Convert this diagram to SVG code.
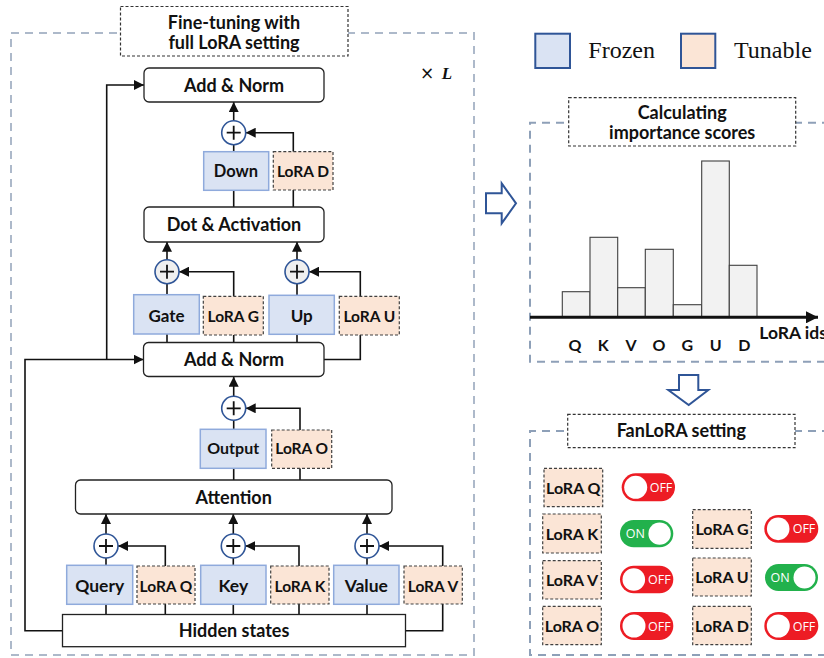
<svg xmlns="http://www.w3.org/2000/svg" width="824" height="658" viewBox="0 0 824 658">
<defs>
<style>
.t{font-family:Lato,"Open Sans","Liberation Sans",sans-serif;font-weight:bold;fill:#111;text-anchor:middle}
.frz{fill:#DAE3F3;stroke:#8FAADC;stroke-width:1.5}
.lora{fill:#FBE5D6;stroke:#404040;stroke-width:1.2;stroke-dasharray:3 2}
.blk{fill:#fff;stroke:#222;stroke-width:1.3}
.ttl{fill:#fff;stroke:#333;stroke-width:1.2;stroke-dasharray:3 2}
.ln{fill:none;stroke:#111;stroke-width:1.6}
.arr{fill:none;stroke:#111;stroke-width:1.6;marker-end:url(#ah)}
.plus{fill:#fff;stroke:#2F5597;stroke-width:1.6}
.pg{fill:#EFEFEF;stroke:#2F5597;stroke-width:1.6}
.pl{fill:none;stroke:#111;stroke-width:1.8}
.bar{fill:#F2F2F2;stroke:#404040;stroke-width:1.1}
.off{fill:#ED1C24}
.on{fill:#22B14C}
.knob{fill:#fff}
.tg{font-family:"Open Sans","Liberation Sans",sans-serif;font-size:12.5px;fill:#fff;text-anchor:middle}
.hol{fill:#fff;stroke:#2F5597;stroke-width:2;stroke-linejoin:miter}
</style>
<marker id="ah" viewBox="0 0 10 10" refX="10" refY="5" markerWidth="10" markerHeight="10" markerUnits="userSpaceOnUse" orient="auto">
<path d="M0,0 L10,5 L0,10 z" fill="#111"/>
</marker>
<marker id="ah2" viewBox="0 0 12 12" refX="12" refY="6" markerWidth="12" markerHeight="12" markerUnits="userSpaceOnUse" orient="auto">
<path d="M0,0 L12,6 L0,12 z" fill="#111"/>
</marker>
</defs>
<rect width="824" height="658" fill="#fff"/>

<!-- outer dashed frames -->
<rect x="11" y="33" width="463" height="622" fill="none" stroke="#ADB9CA" stroke-width="2" stroke-dasharray="8 6"/>
<path d="M830,122.7 H530 V361.7 H830" fill="none" stroke="#8EA0B8" stroke-width="2" stroke-dasharray="8 6"/>
<path d="M830,431 H530 V655 H830" fill="none" stroke="#8EA0B8" stroke-width="2" stroke-dasharray="8 6"/>

<!-- connectors -->
<g id="connectors">
<path class="ln" d="M233.7,151.7 V144.7"/>
<path class="arr" d="M233.7,120.7 V102"/>
<path class="arr" d="M293.3,151.7 V132.7 H245.7"/>
<path class="ln" d="M233.7,207 V190.3 M293.3,207 V190"/>
<path class="arr" d="M167,259.7 V241.7"/>
<path class="arr" d="M297,259.7 V241.7"/>
<path class="ln" d="M167,294.7 V283.7 M297,295.3 V283.7"/>
<path class="arr" d="M233.7,296.3 V271.7 H179"/>
<path class="arr" d="M360.3,296.3 V271.7 H309"/>
<path class="ln" d="M167,334 V342.5 M233.7,335 V342.5 M297,334.3 V342.5"/>
<path class="ln" d="M360.3,335 V359.5 H324"/>
<path class="arr" d="M233.7,396.3 V376.7"/>
<path class="ln" d="M233.7,429.3 V420.3"/>
<path class="arr" d="M300,430 V408.3 H245.7"/>
<path class="ln" d="M233.7,480 V468.3 M300,480 V468.3"/>
<path class="arr" d="M106,534 V514"/>
<path class="arr" d="M233.3,534 V514"/>
<path class="arr" d="M367,534 V514"/>
<path class="ln" d="M106,565.3 V558 M233.3,565.3 V558 M367,565.3 V558"/>
<path class="arr" d="M165.3,566 V546 H118"/>
<path class="arr" d="M299,566 V546 H245.3"/>
<path class="arr" d="M442.7,566 V546 H379"/>
<path class="ln" d="M106,604.3 V614.5 M165.3,604 V614.5 M233.3,604.3 V614.5 M299,604 V614.5 M367,604.3 V614.5"/>
<path class="ln" d="M442.7,604 V630.7 H405.5"/>
<path class="arr" d="M62.5,630.7 H25 V359.5 H143.5"/>
<path class="arr" d="M106.7,359.5 V85 H144"/>
</g>

<!-- title -->
<g id="title-finetune">
<rect class="ttl" x="120.5" y="6.5" width="227.5" height="49.5"/>
<text class="t" x="234" y="29" font-size="18">Fine-tuning with</text>
<text class="t" x="234" y="48.5" font-size="18">full LoRA setting</text>
</g>
<g id="times-L">
<text x="427" y="79" font-family="DejaVu Sans,sans-serif" font-size="17" text-anchor="middle" fill="#111">×</text>
<text x="447" y="79" font-family="Liberation Serif,serif" font-size="17" font-style="italic" font-weight="bold" text-anchor="middle" fill="#111">L</text>
</g>

<!-- blocks -->
<g id="addnorm-top"><rect class="blk" x="144" y="68" width="180" height="34" rx="5"/><text class="t" x="234" y="91.5" font-size="18">Add &amp; Norm</text></g>
<g id="plus-d"><circle class="plus" cx="233.7" cy="132.7" r="12"/><path class="pl" d="M226.7,132.7 H240.7 M233.7,125.7 V139.7"/></g>
<g id="down"><rect class="frz" x="203.7" y="151.7" width="65" height="38.6"/><text class="t" x="236" y="176.7" font-size="16.5">Down</text></g>
<g id="lora-d"><rect class="lora" x="273.3" y="151.7" width="59.7" height="38.3"/><text class="t" x="303" y="176.7" font-size="15.5">LoRA D</text></g>
<g id="dot-act"><rect class="blk" x="144" y="207" width="180" height="35" rx="5"/><text class="t" x="234" y="230.5" font-size="18">Dot &amp; Activation</text></g>
<g id="plus-g"><circle class="pg" cx="167" cy="271.7" r="12"/><path class="pl" d="M160,271.7 H174 M167,264.7 V278.7"/></g>
<g id="plus-u"><circle class="pg" cx="297" cy="271.7" r="12"/><path class="pl" d="M290,271.7 H304 M297,264.7 V278.7"/></g>
<g id="gate"><rect class="frz" x="133.7" y="294.7" width="65.6" height="39.3"/><text class="t" x="166.5" y="321.5" font-size="17">Gate</text></g>
<g id="lora-g"><rect class="lora" x="203.3" y="296.3" width="60" height="38.7"/><text class="t" x="233.3" y="321.5" font-size="15.5">LoRA G</text></g>
<g id="up"><rect class="frz" x="269" y="295.3" width="65.3" height="39"/><text class="t" x="301.7" y="321.5" font-size="17">Up</text></g>
<g id="lora-u"><rect class="lora" x="339.3" y="296.3" width="60" height="38.7"/><text class="t" x="369.3" y="321.5" font-size="15.5">LoRA U</text></g>
<g id="addnorm-mid"><rect class="blk" x="143.5" y="342.5" width="180.5" height="34" rx="5"/><text class="t" x="234" y="366" font-size="18">Add &amp; Norm</text></g>
<g id="plus-o"><circle class="plus" cx="233.7" cy="408.3" r="12"/><path class="pl" d="M226.7,408.3 H240.7 M233.7,401.3 V415.3"/></g>
<g id="output"><rect class="frz" x="200.3" y="429.3" width="65.7" height="39"/><text class="t" x="233.2" y="454.3" font-size="16">Output</text></g>
<g id="lora-o"><rect class="lora" x="271.7" y="430" width="60" height="38.3"/><text class="t" x="301.7" y="454.3" font-size="15.5">LoRA O</text></g>
<g id="attention"><rect class="blk" x="75.5" y="480" width="316.5" height="34" rx="5"/><text class="t" x="233.7" y="503.8" font-size="18">Attention</text></g>
<g id="plus-q"><circle class="plus" cx="106" cy="546" r="12"/><path class="pl" d="M99,546 H113 M106,539 V553"/></g>
<g id="plus-k"><circle class="plus" cx="233.3" cy="546" r="12"/><path class="pl" d="M226.3,546 H240.3 M233.3,539 V553"/></g>
<g id="plus-v"><circle class="plus" cx="367" cy="546" r="12"/><path class="pl" d="M360,546 H374 M367,539 V553"/></g>
<g id="query"><rect class="frz" x="66.7" y="565.3" width="66" height="39"/><text class="t" x="99.7" y="591.5" font-size="17.5">Query</text></g>
<g id="lora-q"><rect class="lora" x="137" y="566" width="58" height="38"/><text class="t" x="166" y="591.5" font-size="15.5">LoRA Q</text></g>
<g id="key"><rect class="frz" x="200.7" y="565.3" width="65.3" height="39"/><text class="t" x="233.3" y="591.5" font-size="17.5">Key</text></g>
<g id="lora-k"><rect class="lora" x="270.7" y="566" width="58.3" height="38"/><text class="t" x="300" y="591.5" font-size="15.5">LoRA K</text></g>
<g id="value"><rect class="frz" x="333.7" y="565.3" width="65.3" height="39"/><text class="t" x="366.3" y="591.5" font-size="17.5">Value</text></g>
<g id="lora-v"><rect class="lora" x="404" y="566" width="58.3" height="38"/><text class="t" x="433" y="591.5" font-size="15.5">LoRA V</text></g>
<g id="hidden"><rect class="blk" x="62.5" y="614.5" width="343" height="32.2"/><text class="t" x="234" y="636.7" font-size="18">Hidden states</text></g>

<!-- legend -->
<g id="legend-frozen"><rect x="535.3" y="33.7" width="34.7" height="34.3" fill="#DAE3F3" stroke="#2F5597" stroke-width="2"/><text x="588.3" y="58.3" font-family="Liberation Serif,serif" font-size="24" fill="#111">Frozen</text></g>
<g id="legend-tunable"><rect x="681" y="33.7" width="34.3" height="34.3" fill="#FBE5D6" stroke="#2F5597" stroke-width="2"/><text x="734" y="58.3" font-family="Liberation Serif,serif" font-size="24" fill="#111">Tunable</text></g>

<!-- hollow arrows -->
<g id="arrow-right"><path class="hol" d="M486,193.3 H501.7 V183.3 L516,203.3 L501.7,223.3 V213.3 H486 Z"/></g>
<g id="arrow-down"><path class="hol" d="M679,375 H698.3 V390 H708.3 L688.7,405 L668.3,390 H679 Z"/></g>

<!-- importance chart -->
<g id="title-calc">
<rect class="ttl" x="568.7" y="97.7" width="227" height="48.3"/>
<text class="t" x="682.2" y="119.3" font-size="18">Calculating</text>
<text class="t" x="682.2" y="139" font-size="18">importance scores</text>
</g>
<g id="chart">
<rect class="bar" x="562.3" y="291.7" width="27.7" height="25"/>
<rect class="bar" x="590" y="237.3" width="27.7" height="79.4"/>
<rect class="bar" x="617.7" y="287.7" width="27.6" height="29"/>
<rect class="bar" x="645.3" y="249.3" width="28" height="67.4"/>
<rect class="bar" x="673.3" y="304.7" width="28.4" height="12"/>
<rect class="bar" x="701.7" y="161" width="27.6" height="155.7"/>
<rect class="bar" x="729.3" y="265.3" width="27.7" height="51.4"/>
<path d="M530,317.3 H818" fill="none" stroke="#111" stroke-width="3" marker-end="url(#ah2)"/>
<text class="t" x="575" y="351" font-size="16">Q</text>
<text class="t" x="603.3" y="351" font-size="16">K</text>
<text class="t" x="631" y="351" font-size="16">V</text>
<text class="t" x="659" y="351" font-size="16">O</text>
<text class="t" x="687.3" y="351" font-size="16">G</text>
<text class="t" x="715.7" y="351" font-size="16">U</text>
<text class="t" x="744.3" y="351" font-size="16">D</text>
<text class="t" x="759.3" y="339.3" font-size="17.5" style="text-anchor:start">LoRA ids</text>
</g>

<!-- FanLoRA setting -->
<g id="title-fan">
<rect class="ttl" x="567.7" y="414.3" width="227.3" height="33.4"/>
<text class="t" x="681.3" y="436.7" font-size="18">FanLoRA setting</text>
</g>
<g id="fan-q"><rect class="lora" x="544" y="468.3" width="58.7" height="38.4"/><text class="t" x="573.3" y="493.5" font-size="16">LoRA Q</text>
<rect class="off" x="621.7" y="473.3" width="53.3" height="28" rx="14"/><circle class="knob" cx="635.7" cy="487.3" r="11.5"/><text class="tg" x="661" y="491.8">OFF</text></g>
<g id="fan-k"><rect class="lora" x="542.7" y="514" width="58.6" height="39"/><text class="t" x="572" y="539.5" font-size="16">LoRA K</text>
<rect class="on" x="620" y="520" width="53.3" height="27.3" rx="13.65"/><circle class="knob" cx="659.6" cy="533.65" r="11.2"/><text class="tg" x="635.3" y="538.1">ON</text></g>
<g id="fan-v"><rect class="lora" x="542.7" y="560.7" width="58.6" height="38.3"/><text class="t" x="572" y="586" font-size="16">LoRA V</text>
<rect class="off" x="620" y="565.7" width="53.3" height="27.6" rx="13.8"/><circle class="knob" cx="633.8" cy="579.5" r="11.3"/><text class="tg" x="659.3" y="584">OFF</text></g>
<g id="fan-o"><rect class="lora" x="542.7" y="606.3" width="58.6" height="38.4"/><text class="t" x="572" y="631.5" font-size="16">LoRA O</text>
<rect class="off" x="620" y="612" width="53.3" height="28" rx="14"/><circle class="knob" cx="634" cy="626" r="11.5"/><text class="tg" x="659.3" y="630.5">OFF</text></g>
<g id="fan-g"><rect class="lora" x="692.7" y="509.7" width="58.6" height="38.6"/><text class="t" x="722" y="535" font-size="16">LoRA G</text>
<rect class="off" x="764.3" y="515" width="54" height="27.7" rx="13.85"/><circle class="knob" cx="778.2" cy="528.85" r="11.3"/><text class="tg" x="804" y="533.3">OFF</text></g>
<g id="fan-u"><rect class="lora" x="692.7" y="558" width="58.6" height="38"/><text class="t" x="722" y="583" font-size="16">LoRA U</text>
<rect class="on" x="765" y="564" width="53" height="27" rx="13.5"/><circle class="knob" cx="804.5" cy="577.5" r="11"/><text class="tg" x="780" y="582">ON</text></g>
<g id="fan-d"><rect class="lora" x="692.7" y="606.3" width="58.6" height="38.4"/><text class="t" x="722" y="631.5" font-size="16">LoRA D</text>
<rect class="off" x="764.3" y="612" width="54" height="28" rx="14"/><circle class="knob" cx="778.3" cy="626" r="11.5"/><text class="tg" x="804" y="630.5">OFF</text></g>
</svg>
